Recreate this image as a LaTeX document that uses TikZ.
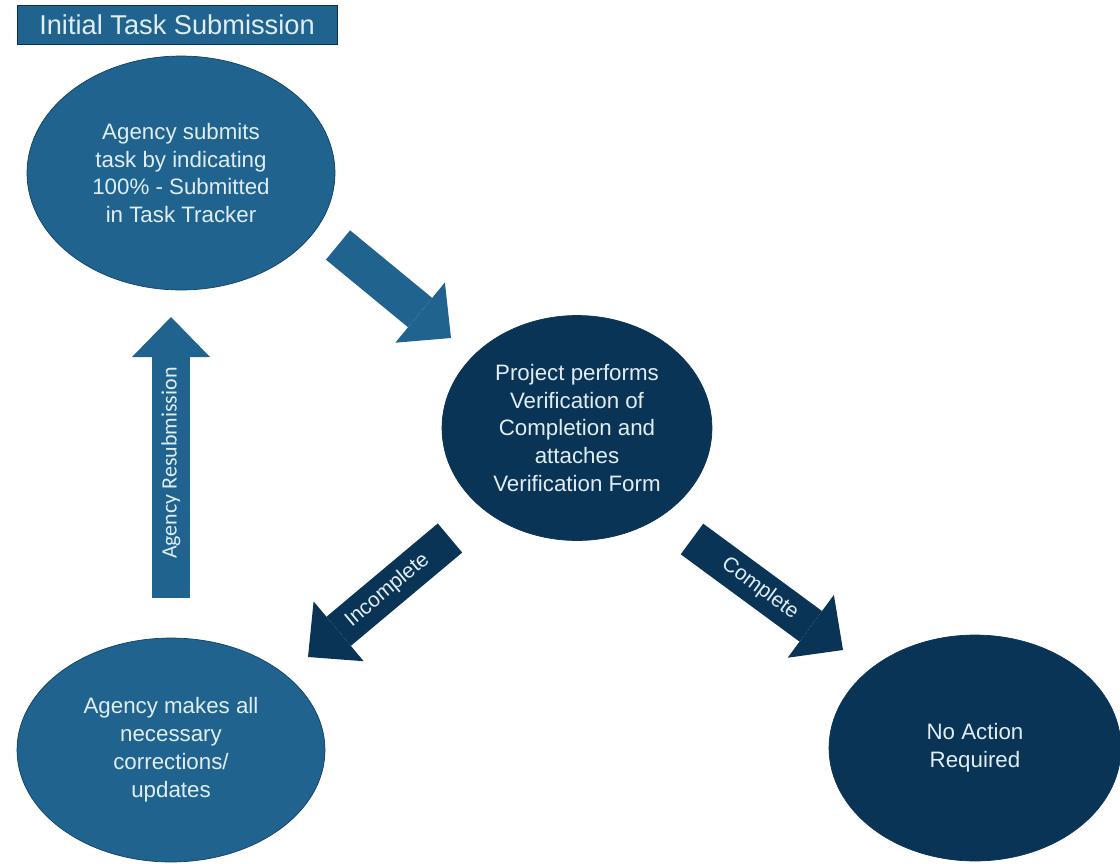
\documentclass[tikz,border=0pt]{standalone}
\usepackage{fontspec}
\setmainfont{Liberation Sans}
\newfontfamily\carlito{Carlito}
\usetikzlibrary{shapes.geometric, arrows.meta}
\definecolor{midblue}{RGB}{31,99,142}
\definecolor{deepblue}{RGB}{10,52,86}
\definecolor{lite}{RGB}{224,237,245}
\tikzset{bubble/.style = {ellipse, inner sep = 0, text = lite, align = center, font = \fontsize{12.7}{15.9}\selectfont}}
\tikzset{flow/.style = {line width = 0.76cm, -{Triangle[length = 0.8cm, width = 1.56cm, line width = 0pt]}}}
\tikzset{flowtext/.style = {sloped, text = lite, inner sep = 0, font = \fontsize{11.9}{14}\selectfont}}

\begin{document}
\begin{tikzpicture}[x = 0.02cm, y = -0.02cm]
    \fill [white] (0, 0) rectangle (1120, 863);
    \useasboundingbox (0, 0) rectangle (1120, 863);

    \node [fill = midblue, draw = deepblue, line width = 0.5pt, text = lite, minimum width = 6.4cm, minimum height = 0.78cm, inner sep = 0, font = \fontsize{15.5}{18}\selectfont] (title) at (177, 24.5) {Initial Task Submission};

    \node [bubble, fill = midblue, draw = deepblue!70!midblue, minimum width = 6.16cm, minimum height = 4.68cm] (submit) at (181, 173) {Agency submits\\task by indicating\\100\% - Submitted\\in Task Tracker};
    \node [bubble, fill = deepblue, draw = deepblue, minimum width = 5.4cm, minimum height = 4.5cm] (verify) at (577, 428) {Project performs\\Verification of\\Completion and\\attaches\\Verification Form};
    \node [bubble, fill = midblue, draw = deepblue!70!midblue, minimum width = 6.16cm, minimum height = 4.48cm] (fix) at (171, 750) {Agency makes all\\necessary\\corrections/\\updates};
    \node [bubble, fill = deepblue, draw = deepblue, minimum width = 5.84cm, minimum height = 4.52cm] (noact) at (975, 748) {No Action\\Required};

    \coordinate (submit-out) at (338, 245);
    \coordinate (verify-in) at (451, 338);
    \coordinate (fix-out) at (171, 598);
    \coordinate (submit-in) at (171, 317);
    \coordinate (verify-left) at (450, 538);
    \coordinate (fix-in) at (308, 657);
    \coordinate (verify-right) at (692, 539);
    \coordinate (noact-in) at (843, 650);

    \draw [flow, midblue] (submit-out) -- (verify-in);
    \draw [flow, midblue] (fix-out) -- (submit-in) node [flowtext, pos = 0.48, font = \carlito\fontsize{12.5}{15}\selectfont] {Agency Resubmission};
    \draw [flow, deepblue] (verify-left) -- (fix-in) node [flowtext, pos = 0.44] {Incomplete};
    \draw [flow, deepblue] (verify-right) -- (noact-in) node [flowtext, pos = 0.45] {Complete};
  \end{tikzpicture}
\end{document}
